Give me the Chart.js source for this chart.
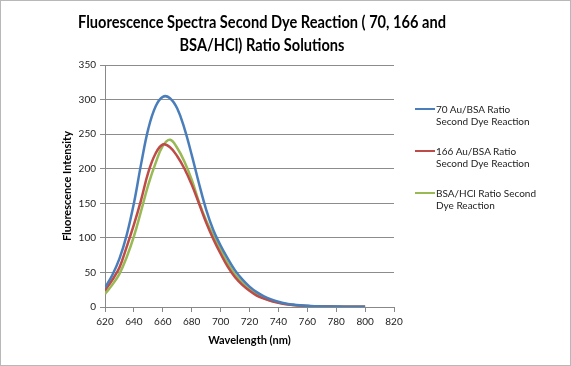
<!DOCTYPE html>
<html><head><meta charset="utf-8">
<script src="https://cdn.jsdelivr.net/npm/chart.js@4.4.1/dist/chart.umd.min.js"></script>
<style>
html,body{margin:0;padding:0;background:#fff;}
#wrap{position:relative;width:571px;height:366px;overflow:hidden;background:#fff;}
#frame{position:absolute;left:0;top:0;width:571px;height:366px;box-sizing:border-box;border:1px solid #b8b8b8;pointer-events:none;}
#title{position:absolute;left:0;width:524px;top:11px;text-align:center;font-family:Lato,"Open Sans",sans-serif;font-weight:bold;font-size:16.5px;line-height:23px;color:#000;transform:scaleX(0.885);transform-origin:262px 0;}
#legend{position:absolute;left:415px;top:103px;font-family:Lato,"Open Sans",sans-serif;font-size:10px;line-height:12px;color:#222;}
.item{position:relative;padding-left:21px;height:42px;}
.swatch{position:absolute;left:0;top:5px;width:20px;height:0;border-top:2px solid;}
canvas{position:absolute;left:0;top:0;}
</style></head>
<body>
<div id="wrap">
<canvas id="c" width="571" height="366"></canvas>
<div id="title">Fluorescence Spectra Second Dye Reaction ( 70, 166 and<br>BSA/HCl) Ratio Solutions</div>
<div id="legend"></div>
<div id="frame"></div>
</div>
<script>
const wavelengths = [620,625,630,635,640,645,650,655,660,665,670,675,680,685,690,695,700,705,710,715,720,725,730,735,740,745,750,755,760,765,770,775,780,785,790,795,800];
const au70 = [28,46,70,104,150,207,258,290,304,302,287,258,220,179,141,111,89,70,53,40,29.5,21.5,15.5,11,7.5,5,3.5,2.4,1.7,1.2,0.9,0.7,0.6,0.5,0.4,0.4,0.3];
const au166 = [24,39,57,87,119,155,195,222,235,231,218,200,177,150,122,98,77,58,43,32,23.5,16.5,12,8.5,6,4,3,2,1.4,1,0.8,0.6,0.5,0.4,0.3,0.3,0.3];
const bsaHcl = [19,32,48,72,102,139,177,208,233,242,230,210,184,152,125,103,83,63,47,35,25.5,18.5,13,9,6.5,4.5,3,2.1,1.5,1.1,0.9,0.7,0.5,0.4,0.3,0.3,0.3];
const seriesNames = ["70 Au/BSA Ratio\nSecond Dye Reaction","166 Au/BSA Ratio\nSecond Dye Reaction","BSA/HCl Ratio Second\nDye Reaction"];
const seriesColors = ["#4a7ebb","#be4b48","#98b954"];
const yTicks = [0,50,100,150,200,250,300,350];
const xTicks = [620,640,660,680,700,720,740,760,780,800,820];

const font = 'Lato, "Open Sans", sans-serif';
const mk = (vals)=>wavelengths.map((w,i)=>({x:w,y:vals[i]}));
const datasets = [au70,au166,bsaHcl].map((v,i)=>({
  label: seriesNames[i].replace("\n"," "),
  data: mk(v),
  borderColor: seriesColors[i],
  backgroundColor: seriesColors[i],
  borderWidth: 2.5,
  pointRadius: 0,
  tension: 0.4,
  fill: false
}));

new Chart(document.getElementById('c'), {
  type: 'line',
  data: { datasets },
  options: {
    responsive: false,
    animation: false,
    devicePixelRatio: 1,
    layout: { padding: { top: 65, right: 177, left: 0, bottom: 0 } },
    plugins: { legend: { display: false }, title: { display: false }, tooltip: { enabled: false } },
    scales: {
      x: {
        type: 'linear', min: 620, max: 820,
        afterBuildTicks: (s)=>{ s.ticks = xTicks.map(v=>({value:v})); },
        afterFit: (s)=>{ s.height = 59; },
        ticks: { font: { family: font, size: 10 }, color: '#222', padding: 4, maxRotation: 0 },
        grid: { drawOnChartArea: false, drawTicks: true, tickLength: 5, color: '#888' },
        border: { color: '#888', width: 1 },
        title: { display: true, text: 'Wavelength (nm)', font: { family: font, size: 11, weight: 'bold' }, color: '#000', padding: { top: 0, bottom: 19 } }
      },
      y: {
        min: 0, max: 350,
        afterBuildTicks: (s)=>{ s.ticks = yTicks.map(v=>({value:v})); },
        afterFit: (s)=>{ s.width = 105; },
        ticks: { font: { family: font, size: 10 }, color: '#222', padding: 4 },
        grid: { color: '#8c8c8c', lineWidth: 1, drawTicks: true, tickLength: 5 },
        border: { color: '#888', width: 1 },
        title: { display: true, text: 'Fluorescence Intensity', font: { family: font, size: 11, weight: 'bold' }, color: '#000', padding: { top: 61, bottom: 0 } }
      }
    }
  }
});

const lg = document.getElementById('legend');
seriesNames.forEach((n,i)=>{
  const d = document.createElement('div'); d.className='item';
  const s = document.createElement('div'); s.className='swatch'; s.style.borderColor = seriesColors[i];
  d.appendChild(s);
  const t = document.createElement('div'); t.innerHTML = n.replace("\n","<br>");
  d.appendChild(t); lg.appendChild(d);
});
</script>
</body></html>
